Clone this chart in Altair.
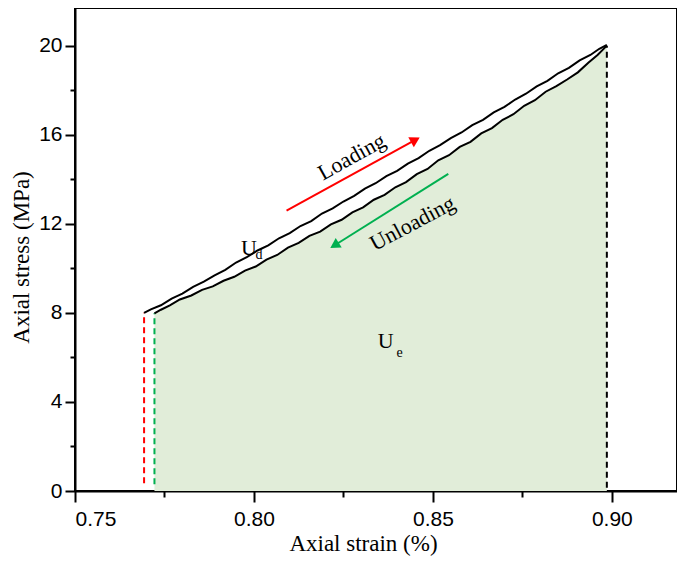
import altair as alt
import pandas as pd

# ---------------- data ----------------
load_strain = [0.7693, 0.7712, 0.7740, 0.7770, 0.7800, 0.7830, 0.7860, 0.7890,
               0.7920, 0.7950, 0.7980, 0.8010, 0.8040, 0.8070, 0.8100, 0.8130,
               0.8160, 0.8190, 0.8220, 0.8250, 0.8280, 0.8310, 0.8340, 0.8370,
               0.8400, 0.8430, 0.8460, 0.8490, 0.8520, 0.8550, 0.8580, 0.8610,
               0.8640, 0.8670, 0.8700, 0.8730, 0.8760, 0.8790, 0.8820, 0.8850,
               0.8880, 0.8910, 0.8940, 0.8965, 0.8986]
load_stress = [8.00, 8.16, 8.34, 8.64, 8.86, 9.17, 9.40, 9.68,
               9.93, 10.26, 10.50, 10.80, 11.03, 11.35, 11.58, 11.90,
               12.12, 12.46, 12.69, 13.00, 13.25, 13.58, 13.82, 14.14,
               14.38, 14.70, 14.95, 15.28, 15.53, 15.85, 16.10, 16.43,
               16.67, 17.00, 17.25, 17.58, 17.84, 18.17, 18.42, 18.76,
               19.00, 19.34, 19.58, 19.86, 20.03]

unload_strain = [0.7722, 0.7740, 0.7765, 0.7793, 0.7825, 0.7855, 0.7885, 0.7915,
                 0.7945, 0.7975, 0.8005, 0.8035, 0.8065, 0.8095, 0.8125, 0.8155,
                 0.8185, 0.8215, 0.8245, 0.8275, 0.8305, 0.8335, 0.8365, 0.8395,
                 0.8425, 0.8455, 0.8485, 0.8515, 0.8545, 0.8575, 0.8605, 0.8635,
                 0.8665, 0.8695, 0.8725, 0.8755, 0.8785, 0.8815, 0.8845, 0.8875,
                 0.8905, 0.8935, 0.8960, 0.8986]
unload_stress = [7.98, 8.14, 8.34, 8.60, 8.78, 9.03, 9.19, 9.44,
                 9.62, 9.90, 10.08, 10.39, 10.60, 10.93, 11.14, 11.46,
                 11.65, 11.97, 12.18, 12.51, 12.74, 13.08, 13.30, 13.64,
                 13.87, 14.23, 14.46, 14.85, 15.08, 15.45, 15.68, 16.06,
                 16.30, 16.67, 16.92, 17.30, 17.55, 17.93, 18.18, 18.48,
                 18.80, 19.24, 19.58, 20.00]

x_major = [0.75, 0.80, 0.85, 0.90]
x_minor = [0.775, 0.825, 0.875]
y_major = [0, 4, 8, 12, 16, 20]
y_minor = [2, 6, 10, 14, 18]

# dashed guide lines: strain, bottom stress, top stress, colour
guide_strain = [0.7693, 0.7722, 0.8986]
guide_bottom = [0.35, 0.30, 0.15]
guide_top = [8.00, 7.98, 20.00]
guide_color = ["#ff0000", "#00b050", "#000000"]

# arrows: start (strain, stress), head (strain, stress), head angle, colour
arrow_x = [0.8091, 0.8543]
arrow_y = [12.59, 14.24]
arrow_x2 = [0.8447, 0.8229]
arrow_y2 = [15.73, 11.07]
arrow_angle = [61, 238]
arrow_color = ["#ff0000", "#00b050"]

# annotation texts
label_text = ["Loading", "Unloading"]
label_x = [0.8273, 0.8443]
label_y = [15.01, 12.02]
label_angle = [331, 332]

big_text = ["U", "U"]
big_x = [0.7986, 0.8368]
big_y = [10.91, 6.75]
sub_text = ["d", "e"]
sub_x = [0.8014, 0.8407]
sub_y = [10.60, 6.21]

# ---------------- tables ----------------
load_df = pd.DataFrame({"strain": load_strain, "stress": load_stress,
                        "i": range(len(load_strain))})
unload_df = pd.DataFrame({"strain": unload_strain, "stress": unload_stress,
                          "i": range(len(unload_strain))})
guide_df = pd.DataFrame({"x": guide_strain, "y": guide_bottom, "y2": guide_top,
                         "c": guide_color})
arrow_df = pd.DataFrame({"x": arrow_x, "y": arrow_y, "x2": arrow_x2, "y2": arrow_y2,
                         "a": arrow_angle, "c": arrow_color})
label_df = pd.DataFrame({"t": label_text, "x": label_x, "y": label_y, "a": label_angle})
big_df = pd.DataFrame({"t": big_text, "x": big_x, "y": big_y})
sub_df = pd.DataFrame({"t": sub_text, "x": sub_x, "y": sub_y})

xs = alt.Scale(domain=[0.75, 0.9182], nice=False, zero=False)
ys = alt.Scale(domain=[0, 21.69], nice=False, zero=False)

x_axis_major = alt.Axis(values=x_major, format=".2f", tickSize=11, labelPadding=6,
                        title="Axial strain (%)", titleX=288, titleY=59,
                        titleBaseline="alphabetic", titleAlign="center", orient="bottom")
y_axis_major = alt.Axis(values=y_major, format="d", tickSize=10, labelPadding=3,
                        title="Axial stress (MPa)", titleX=-54, titleY=249,
                        titleBaseline="middle", titleAlign="center", titleAngle=270,
                        orient="left")
x_axis_minor = alt.Axis(values=x_minor, tickSize=6, labels=False, domain=False,
                        title=None, orient="bottom")
y_axis_minor = alt.Axis(values=y_minor, tickSize=5, labels=False, domain=False,
                        title=None, orient="left")

area = alt.Chart(unload_df).mark_area(color="#e1edd9", opacity=1).encode(
    x=alt.X("strain:Q", scale=xs, axis=x_axis_major),
    y=alt.Y("stress:Q", scale=ys, axis=y_axis_major),
)

guides = alt.Chart(guide_df).mark_rule(strokeDash=[6, 4], strokeWidth=2).encode(
    x=alt.X("x:Q", scale=xs, axis=x_axis_minor),
    y=alt.Y("y:Q", scale=ys, axis=y_axis_minor),
    y2="y2:Q",
    color=alt.Color("c:N", scale=None),
)

load_line = alt.Chart(load_df).mark_line(color="black", strokeWidth=2).encode(
    x=alt.X("strain:Q", scale=xs, axis=None),
    y=alt.Y("stress:Q", scale=ys, axis=None),
    order="i:Q",
)
unload_line = alt.Chart(unload_df).mark_line(color="black", strokeWidth=2).encode(
    x=alt.X("strain:Q", scale=xs, axis=None),
    y=alt.Y("stress:Q", scale=ys, axis=None),
    order="i:Q",
)

arrow_shaft = alt.Chart(arrow_df).mark_rule(strokeWidth=2).encode(
    x=alt.X("x:Q", scale=xs, axis=None),
    y=alt.Y("y:Q", scale=ys, axis=None),
    x2="x2:Q", y2="y2:Q",
    color=alt.Color("c:N", scale=None),
)
arrow_head = alt.Chart(arrow_df).mark_point(shape="triangle", filled=True, size=130,
                                            opacity=1).encode(
    x=alt.X("x2:Q", scale=xs, axis=None),
    y=alt.Y("y2:Q", scale=ys, axis=None),
    angle=alt.Angle("a:Q", scale=None),
    color=alt.Color("c:N", scale=None),
)

labels = alt.Chart(label_df).mark_text(font="Liberation Serif", fontSize=22,
                                       color="black", align="center",
                                       baseline="middle").encode(
    x=alt.X("x:Q", scale=xs, axis=None),
    y=alt.Y("y:Q", scale=ys, axis=None),
    text="t:N",
    angle=alt.Angle("a:Q", scale=None),
)
big = alt.Chart(big_df).mark_text(font="Liberation Serif", fontSize=22, color="black",
                                  align="center", baseline="middle").encode(
    x=alt.X("x:Q", scale=xs, axis=None),
    y=alt.Y("y:Q", scale=ys, axis=None),
    text="t:N",
)
sub = alt.Chart(sub_df).mark_text(font="Liberation Serif", fontSize=14, color="black",
                                  align="center", baseline="middle").encode(
    x=alt.X("x:Q", scale=xs, axis=None),
    y=alt.Y("y:Q", scale=ys, axis=None),
    text="t:N",
)

chart = alt.layer(area, guides, load_line, unload_line, arrow_shaft, arrow_head,
                  labels, big, sub).resolve_axis(
    x="independent", y="independent"
).properties(
    width=602, height=483,
    autosize=alt.AutoSizeParams(type="none"),
    padding={"left": 67, "top": 0, "right": 0, "bottom": 65},
    background="white",
).configure_view(
    stroke="black", strokeWidth=2
).configure_axis(
    grid=False, domainColor="black", domainWidth=2, tickColor="black", tickWidth=2,
    labelFont="Liberation Sans", labelFontSize=21, labelColor="black",
    titleFont="Liberation Serif", titleFontSize=23, titleFontWeight="normal",
    titleColor="black",
)

chart.save("out.html", embed_options={"renderer": "svg", "actions": False})
